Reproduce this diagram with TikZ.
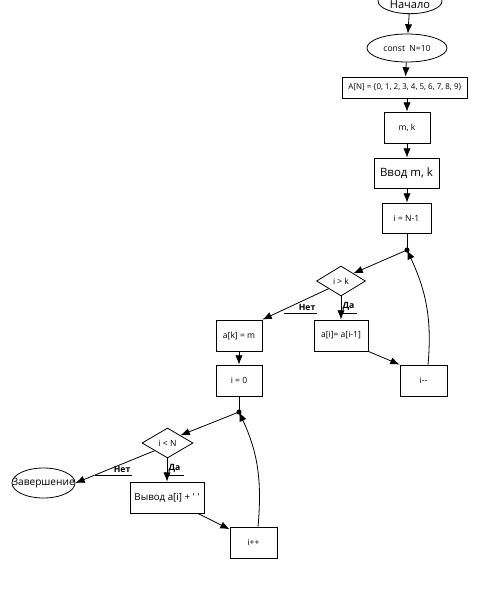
\documentclass[tikz,border=0pt]{standalone}
\usepackage{fontspec}
\setmainfont{Open Sans}
\usetikzlibrary{shapes.geometric,arrows.meta,positioning}

\begin{document}
\begin{tikzpicture}[x=0.75pt,y=-0.75pt,
    every node/.style={font=\fontsize{6.4}{7}\selectfont, inner sep=0pt},
    block/.style={draw, line width=0.6pt, rectangle},
    term/.style={draw, line width=0.6pt, ellipse},
    cond/.style={draw, line width=0.6pt, diamond, shape aspect=1.7},
    flow/.style={line width=0.6pt, -{Latex[length=7pt,width=5.5pt]}},
    branch/.style={font=\fontsize{6.5}{7}\selectfont\bfseries, inner xsep=1pt, inner ysep=1.5pt}]
    \useasboundingbox (0,0) rectangle (500,607);

    % top part
    \node[term, minimum width=48pt, minimum height=19pt, label={[font=\fontsize{8.3}{9}\selectfont, yshift=-2.5pt]center:Начало}] (start) at (410,1) {};
    \node[term, minimum width=60pt, minimum height=21pt] (const) at (407,48) {const\ \ N=10};
    \node[block, minimum width=93.75pt, minimum height=15.75pt, font=\fontsize{6}{7}\selectfont] (arr) at (405,87.5) {A[N] = \{0, 1, 2, 3, 4, 5, 6, 7, 8, 9\}};
    \node[block, minimum width=34.5pt, minimum height=23.25pt] (vars) at (407,127.5) {m, k};
    \node[block, minimum width=48.75pt, minimum height=22.5pt, font=\fontsize{8.6}{10}\selectfont] (input) at (406.5,173) {Ввод m, k};
    \node[block, minimum width=36.75pt, minimum height=22.5pt] (init) at (406.5,218) {i = N-1};
    \coordinate (dot1) at (407,250);
    \fill (dot1) circle (1.9pt);

    \draw[flow] (start) -- (const);
    \draw[flow] (const) -- (arr);
    \draw[flow] (arr.south -| vars) -- (vars);
    \draw[flow] (vars) -- (input.north -| vars);
    \draw[flow] (input.south -| vars) -- (init.north -| vars);
    \draw[line width=0.6pt] (init.south -| dot1) -- (dot1);

    % first loop
    \node[cond, minimum width=36.75pt, minimum height=22.5pt] (cmp1) at (341,281) {i > k};
    \node[block, minimum width=34.5pt, minimum height=23.25pt] (put) at (239,335.5) {a[k] = m};
    \node[block, minimum width=40.5pt, minimum height=23.25pt] (shift) at (341,335.5) {a[i]= a[i-1]};
    \node[block, minimum width=35.25pt, minimum height=23.25pt] (dec) at (423.5,380.5) {i{-}{-}};
    \node[branch, text width=22.25pt, align=right, anchor=south east] (no1) at (317,313) {Нет};
    \node[branch, text width=9.25pt, align=left, anchor=south west] (yes1) at (341,313) {Да};
    \draw[line width=0.6pt] (no1.south west) -- (no1.south east);
    \draw[line width=0.6pt] (yes1.south west) -- (yes1.south east);

    \draw[flow] (dot1) -- (cmp1.north east);
    \draw[flow] (cmp1.south west) -- (put.north east);
    \draw[flow] (cmp1) -- (shift);
    \draw[flow] (shift.south east) -- (dec.north west);
    \draw[flow] ([xshift=3.4pt]dec.north) to[out=85,in=-65] (dot1);

    % second loop
    \node[block, minimum width=34.5pt, minimum height=23.25pt] (zero) at (239,380.5) {i = 0};
    \coordinate (dot2) at (239,412);
    \fill (dot2) circle (1.9pt);
    \node[cond, minimum width=38.25pt, minimum height=22.5pt] (cmp2) at (167.5,443) {i < N};
    \node[term, minimum width=47.25pt, minimum height=22.5pt, label={[font=\fontsize{7.6}{9}\selectfont]center:Завершение}] (stop) at (43.5,483) {};
    \node[block, minimum width=55.5pt, minimum height=23.25pt, font=\fontsize{7.3}{9}\selectfont] (out) at (167,497.5) {Вывод a[i] + \textquotesingle\ \textquotesingle};
    \node[block, minimum width=35.25pt, minimum height=23.25pt] (inc) at (253.5,542.5) {i++};
    \node[branch, text width=25.25pt, align=right, anchor=south east] (no2) at (132,475) {Нет};
    \node[branch, text width=10pt, align=left, anchor=south west] (yes2) at (167,475) {Да};
    \draw[line width=0.6pt] (no2.south west) -- (no2.south east);
    \draw[line width=0.6pt] (yes2.south west) -- (yes2.south east);

    \draw[flow] (put) -- (zero);
    \draw[line width=0.6pt] (zero.south) -- (dot2);
    \draw[flow] (dot2) -- (cmp2.north east);
    \draw[flow] (cmp2.south west) -- (stop.east);
    \draw[flow] (cmp2.south -| out) -- (out);
    \draw[flow] ([xshift=-5pt]out.south east) -- ([yshift=-2pt]inc.north west);
    \draw[flow] ([xshift=3.4pt]inc.north) to[out=85,in=-65] (dot2);
\end{tikzpicture}
\end{document}
